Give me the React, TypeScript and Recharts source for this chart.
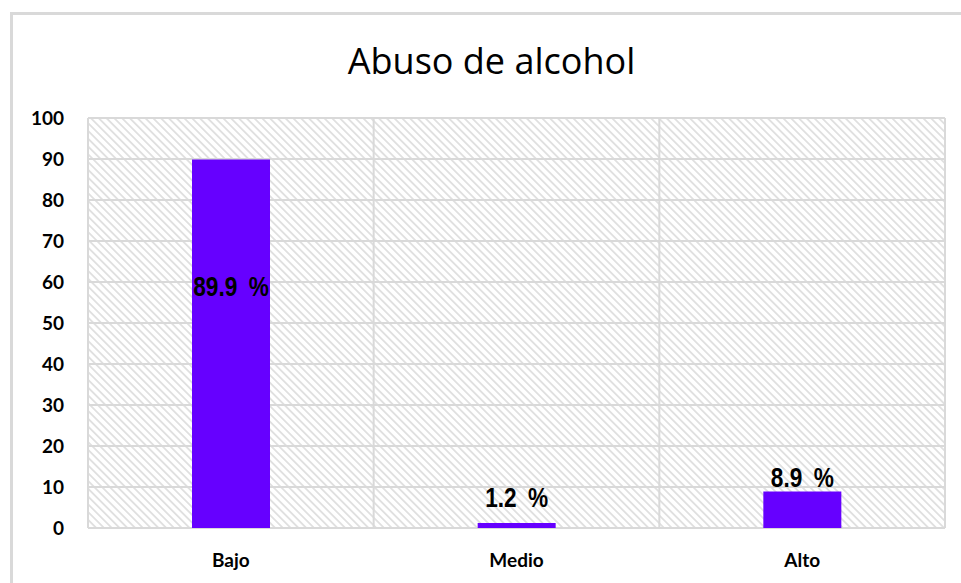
import React from "react";
import {
  BarChart,
  Bar,
  XAxis,
  YAxis,
  CartesianGrid,
  LabelList,
} from "recharts";

const categories = ["Bajo", "Medio", "Alto"];
const values = [89.9, 1.2, 8.9];
const yTicks = [0, 10, 20, 30, 40, 50, 60, 70, 80, 90, 100];

const data = categories.map((name, i) => ({ name, value: values[i] }));

const GRID = "#d9d9d9";
const BAR = "#6600ff";

// etiqueta: dentro de la barra si es alta, encima si es baja
// eslint-disable-next-line @typescript-eslint/no-explicit-any
function ValueLabel(props: any) {
  const { x, y, width, height, value } = props;
  const cx = x + width / 2;
  const zeroY = y + height;
  const baseY = height > 60 ? y + height * 0.345 + 9 : Math.min(y - 5, zeroY - 21);
  return (
    <text
      transform={`translate(${cx}, ${baseY}) scale(0.84, 1)`}
      x={0}
      y={0}
      textAnchor="middle"
      fontFamily="'Liberation Sans', Arial, sans-serif"
      fontWeight="bold"
      fontSize={27}
      fill="#000"
    >
      {`${value}\u2002%`}
    </text>
  );
}

export default function App() {
  return (
    <div
      style={{
        position: "absolute",
        left: 0,
        top: 0,
        width: 961,
        height: 583,
        overflow: "hidden",
        background: "#fff",
      }}
    >
      <div
        style={{
          position: "absolute",
          left: 10,
          top: 12,
          width: 1000,
          height: 700,
          borderTop: `3px solid ${GRID}`,
          borderLeft: `3px solid ${GRID}`,
        }}
      />
      <div
        style={{
          position: "absolute",
          left: 0,
          top: 37,
          width: 983,
          textAlign: "center",
          fontFamily: "'Open Sans', sans-serif",
          fontSize: 36,
          color: "#000",
          lineHeight: "48px",
        }}
      >
        Abuso de alcohol
      </div>
      <div style={{ position: "absolute", left: 0, top: 0 }}>
        <BarChart
          width={961}
          height={583}
          data={data}
          margin={{ top: 118, right: 16, left: 0, bottom: 0 }}
        >
          <defs>
            <pattern
              id="hatch"
              patternUnits="userSpaceOnUse"
              width={5.5}
              height={5.5}
              patternTransform="rotate(45)"
            >
              <rect width={5.5} height={5.5} fill="#ffffff" />
              <line x1={0} y1={2.75} x2={5.5} y2={2.75} stroke="#e0e0e0" strokeWidth={1.8} />
            </pattern>
          </defs>
          <CartesianGrid
            fill="url(#hatch)"
            stroke={GRID}
            strokeWidth={2}
            strokeOpacity={1}
            verticalCoordinatesGenerator={({ offset }: any) =>
              [0, 1, 2, 3].map(
                (i) => offset.left + (offset.width * i) / categories.length
              )
            }
          />
          <XAxis
            dataKey="name"
            height={55}
            axisLine={false}
            tickLine={false}
            tickSize={0}
            tickMargin={26}
            tick={{
              fontSize: 19,
              fontWeight: "bold",
              fill: "#000",
              fontFamily: "Lato, sans-serif",
            }}
          />
          <YAxis
            domain={[0, 100]}
            ticks={yTicks}
            width={88}
            axisLine={false}
            tickLine={false}
            tickSize={0}
            tickMargin={24}
            interval={0}
            tick={{
              fontSize: 19,
              fontWeight: "bold",
              fill: "#000",
              fontFamily: "Lato, sans-serif",
            }}
          />
          <Bar dataKey="value" fill={BAR} barSize={78} isAnimationActive={false}>
            <LabelList dataKey="value" content={<ValueLabel />} />
          </Bar>
        </BarChart>
      </div>
    </div>
  );
}
